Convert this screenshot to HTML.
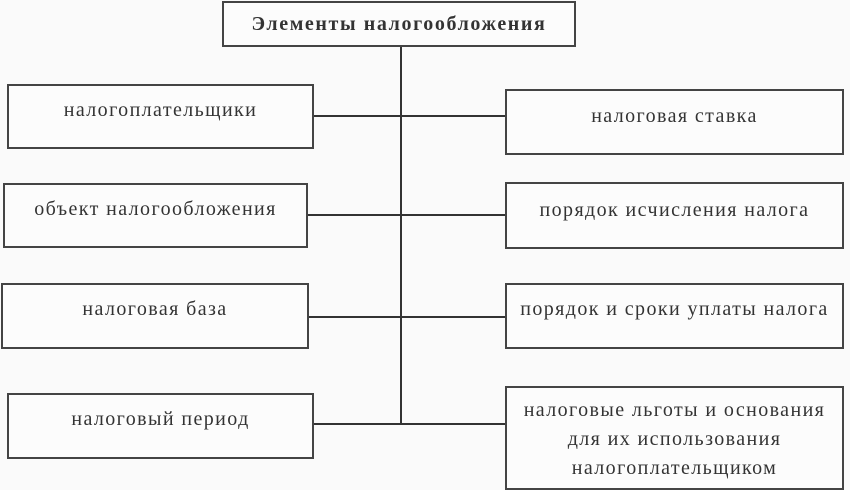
<!DOCTYPE html>
<html><head><meta charset="utf-8"><style>
body{margin:0;width:850px;height:488px;background:#fafafa;position:relative;overflow:hidden;font-family:"Liberation Serif",serif;color:#333;}
.b{position:absolute;border:2px solid #444;box-sizing:border-box;background:#fcfcfc;}
.t{position:absolute;left:-20px;right:-20px;text-align:center;font-size:20px;line-height:24px;letter-spacing:1.4px;white-space:nowrap;}
.l{position:absolute;background:#333;}
</style></head><body>
<div class="l" style="left:400px;top:46px;width:2px;height:379px"></div>
<div class="l" style="left:313px;top:115px;width:192px;height:2px"></div>
<div class="l" style="left:307px;top:214px;width:198px;height:2px"></div>
<div class="l" style="left:308px;top:316px;width:197px;height:2px"></div>
<div class="l" style="left:313px;top:423px;width:192px;height:2px"></div>

<div class="b" style="left:222px;top:1px;width:354px;height:46px"><div class="t" style="top:9px;font-weight:bold;font-size:20px;letter-spacing:1.6px">Элементы налогообложения</div></div>

<div class="b" style="left:7px;top:84px;width:307px;height:65px"><div class="t" style="top:12px">налогоплательщики</div></div>
<div class="b" style="left:3px;top:183px;width:305px;height:65px"><div class="t" style="top:12px">объект налогообложения</div></div>
<div class="b" style="left:1px;top:283px;width:308px;height:66px"><div class="t" style="top:12px">налоговая база</div></div>
<div class="b" style="left:7px;top:393px;width:307px;height:66px"><div class="t" style="top:12px">налоговый период</div></div>

<div class="b" style="left:505px;top:89px;width:339px;height:66px"><div class="t" style="top:13px">налоговая ставка</div></div>
<div class="b" style="left:505px;top:182px;width:339px;height:67px"><div class="t" style="top:14px">порядок исчисления налога</div></div>
<div class="b" style="left:505px;top:283px;width:339px;height:66px"><div class="t" style="top:12px">порядок и сроки уплаты налога</div></div>
<div class="b" style="left:505px;top:386px;width:339px;height:104px"><div class="t" style="top:8px;line-height:29px">налоговые льготы и основания<br>для их использования<br>налогоплательщиком</div></div>
</body></html>
